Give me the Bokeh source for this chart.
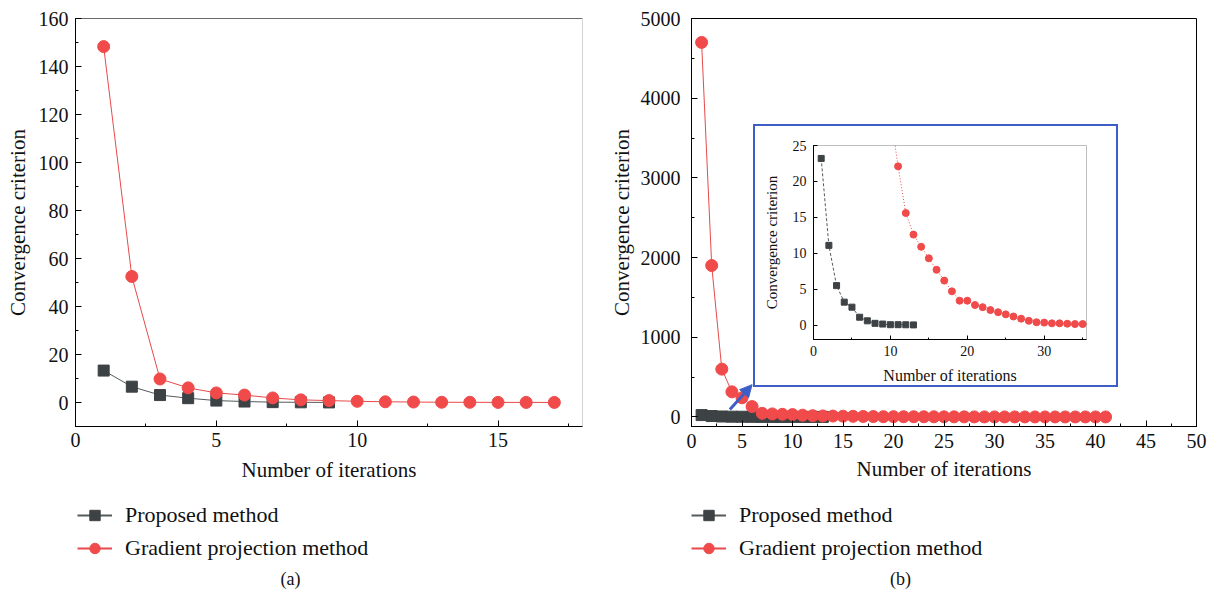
from bokeh.plotting import figure
from bokeh.models import (GridBox, Span, Label, Arrow, NormalHead, Legend,
                          LegendItem, SingleIntervalTicker, Range1d)
from bokeh.embed import file_html
from bokeh.resources import INLINE

# ---------------- data ----------------
iters_a_proposed = list(range(1, 10))
proposed_a = [13.3, 6.6, 3.1, 1.8, 0.8, 0.4, 0.15, 0.08, 0.03]
iters_a_gradient = list(range(1, 18))
gradient_a = [148.3, 52.5, 9.8, 6.1, 4.0, 3.1, 1.9, 1.1, 0.8, 0.5, 0.3,
              0.2, 0.1, 0.08, 0.05, 0.04, 0.03]

iters_b_proposed = list(range(1, 14))
proposed_b = [23.2, 11.1, 5.5, 3.2, 2.5, 1.1, 0.6, 0.25, 0.15, 0.06, 0.06,
              0.05, 0.03]
iters_b_gradient = list(range(1, 42))
gradient_b = [4700, 1900, 600, 315, 240, 130, 45, 38, 33, 29.5, 22.1, 15.6,
              12.6, 10.9, 9.3, 7.7, 6.2, 4.7, 3.4, 3.4, 2.8, 2.5, 2.1, 1.8,
              1.5, 1.2, 0.9, 0.6, 0.4, 0.35, 0.25, 0.25, 0.2, 0.15, 0.15,
              0.12, 0.1, 0.1, 0.08, 0.07, 0.05]

x_label = "Number of iterations"
y_label = "Convergence criterion"
legend_labels = ["Proposed method", "Gradient projection method"]
captions = ["(a)", "(b)"]

# ---------------- style ----------------
FONT = "Liberation Serif"
RED = "#f04a4a"
RED_LINE = "#e64a4a"
DARK = "#3d4245"
DARK_LINE = "#555a5c"
BLUE = "#3d5ec6"
TXT = "#111111"
MAIN_H = 495
LEG_H = 105


def style_axis(ax, tick_px, label_px, tick_in, minor_in, tick_standoff,
               label_standoff):
    ax.axis_line_color = "black"
    ax.axis_line_width = 1
    ax.major_tick_line_color = "black"
    ax.minor_tick_line_color = "black"
    ax.major_tick_in = tick_in
    ax.major_tick_out = 0
    ax.minor_tick_in = minor_in
    ax.minor_tick_out = 0
    ax.major_label_text_font = FONT
    ax.major_label_text_font_size = f"{tick_px}px"
    ax.major_label_text_color = TXT
    ax.major_label_standoff = tick_standoff
    ax.axis_label_text_font = FONT
    ax.axis_label_text_font_size = f"{label_px}px"
    ax.axis_label_text_font_style = "normal"
    ax.axis_label_text_color = TXT
    ax.axis_label_standoff = label_standoff


def base_style(p):
    p.xgrid.visible = False
    p.ygrid.visible = False
    p.background_fill_color = "white"
    p.border_fill_color = "white"


def add_series(p, xs_p, ys_p, xs_g, ys_g, sq, ci, lw=1):
    r1 = p.line(xs_p, ys_p, line_color=DARK_LINE, line_width=lw)
    r2 = p.scatter(xs_p, ys_p, marker="square", size=sq,
                   fill_color=DARK, line_color=DARK)
    r3 = p.line(xs_g, ys_g, line_color=RED_LINE, line_width=lw)
    r4 = p.scatter(xs_g, ys_g, marker="circle", size=ci,
                   fill_color=RED, line_color=RED)
    return [(r1, r2), (r3, r4)]


def legend_panel(width, xs_p, ys_p, xs_g, ys_g, vx, vy, caption, cap_x):
    """A bare figure under a chart that carries its legend and caption.
    It holds the same series, kept out of its (empty) view, so that the
    legend draws their glyphs."""
    q = figure(width=width, height=LEG_H, x_range=Range1d(-3, -2),
               y_range=Range1d(-3, -2), output_backend="svg",
               toolbar_location=None, x_axis_location=None,
               y_axis_location=None, min_border=0)
    q.outline_line_color = None
    q.background_fill_color = "white"
    q.border_fill_color = "white"
    q.grid.visible = False
    pairs = add_series(q, xs_p, ys_p, xs_g, ys_g, 11, 12, lw=2)
    items = [LegendItem(label=legend_labels[i], renderers=list(pairs[i]))
             for i in range(2)]
    q.add_layout(Legend(items=items, location=(vx, vy),
                        border_line_color=None, background_fill_alpha=0,
                        padding=0, margin=0, spacing=7, glyph_width=35,
                        glyph_height=26, label_height=26, label_standoff=13,
                        label_text_font=FONT, label_text_font_size="22px",
                        label_text_color=TXT))
    q.add_layout(Label(x=cap_x, y=22, x_units="screen", y_units="screen",
                       text=caption, text_align="center",
                       text_baseline="middle", text_font=FONT,
                       text_font_size="18px", text_color=TXT))
    return q


# ---------------- panel (a) ----------------
pa = figure(width=600, height=MAIN_H, x_range=Range1d(0, 18),
            y_range=Range1d(-10, 160), output_backend="svg",
            toolbar_location=None, min_border_left=75, min_border_right=18,
            min_border_top=18, min_border_bottom=MAIN_H - 426,
            x_axis_label=x_label, y_axis_label=y_label)
base_style(pa)
style_axis(pa.xaxis[0], 20, 21, 6, 3, 6, 8)
style_axis(pa.yaxis[0], 20, 21, 6, 3, 7, 6)
pa.xaxis.ticker = SingleIntervalTicker(interval=5, num_minor_ticks=2)
pa.yaxis.ticker = SingleIntervalTicker(interval=20, num_minor_ticks=2)
pa.outline_line_color = "#d4d4d4"
pa.add_layout(Span(location=pa.y_range.end, dimension="width",
                   line_color="black", line_width=1))
add_series(pa, iters_a_proposed, proposed_a,
           iters_a_gradient, gradient_a, 11, 12)

# ---------------- panel (b) ----------------
pb = figure(width=607, height=MAIN_H, x_range=Range1d(0, 50),
            y_range=Range1d(-120, 5000), output_backend="svg",
            toolbar_location=None, min_border_left=91, min_border_right=11,
            min_border_top=18, min_border_bottom=MAIN_H - 426,
            x_axis_label=x_label, y_axis_label=y_label)
base_style(pb)
style_axis(pb.xaxis[0], 20, 21, 6, 3, 7, 6)
style_axis(pb.yaxis[0], 20, 21, 6, 3, 11, 4)
pb.xaxis.ticker = SingleIntervalTicker(interval=5, num_minor_ticks=2)
pb.yaxis.ticker = SingleIntervalTicker(interval=1000, num_minor_ticks=2)
pb.outline_line_color = "black"
add_series(pb, iters_b_proposed, proposed_b,
           iters_b_gradient, gradient_b, 11, 12)

# pointer arrow toward the zoomed inset
ARROW_FROM = (3.8, 92)
ARROW_TO = (6.0, 405)
pb.add_layout(Arrow(x_start=ARROW_FROM[0], y_start=ARROW_FROM[1],
                    x_end=ARROW_TO[0], y_end=ARROW_TO[1],
                    line_color=BLUE, line_width=3,
                    end=NormalHead(size=12, fill_color=BLUE, line_color=BLUE)))

# ---------------- inset ----------------
inset = figure(width=365, height=263, x_range=Range1d(0, 35.5),
               y_range=Range1d(-2, 25), output_backend="svg",
               toolbar_location=None, min_border_left=58, min_border_right=34,
               min_border_top=19, min_border_bottom=50,
               x_axis_label=x_label, y_axis_label=y_label)
base_style(inset)
style_axis(inset.xaxis[0], 14, 16, 4, 2, 6, 8)
style_axis(inset.yaxis[0], 14, 15, 4, 2, 7, 10)
inset.xaxis.ticker = SingleIntervalTicker(interval=10, num_minor_ticks=2)
inset.yaxis.ticker = SingleIntervalTicker(interval=5, num_minor_ticks=1)
inset.outline_line_color = "#bdbdbd"
inset.styles = {"border": f"2px solid {BLUE}"}

inset.line(iters_b_proposed, proposed_b, line_color=DARK_LINE, line_width=1,
           line_dash="3 2")
inset.scatter(iters_b_proposed, proposed_b, marker="square", size=6,
              fill_color=DARK, line_color=DARK)
inset.line(iters_b_gradient, gradient_b, line_color=RED_LINE, line_width=1,
           line_dash="1 2")
inset.scatter(iters_b_gradient, gradient_b, marker="circle", size=7,
              fill_color=RED, line_color=RED)

# ---------------- legends + captions ----------------
# (the grid aligns these frames with the charts' frames above them)
la = legend_panel(600, iters_a_proposed, proposed_a, iters_a_gradient,
                  gradient_a, 2, 39, captions[0], 215)
lb = legend_panel(607, iters_b_proposed, proposed_b, iters_b_gradient,
                  gradient_b, 0, 39, captions[1], 209)

grid = GridBox(children=[(pa, 0, 0, 3, 1), (pb, 0, 1, 3, 3),
                         (inset, 1, 2, 1, 1),
                         (la, 3, 0, 1, 1), (lb, 3, 1, 1, 3)],
               rows=["124px", "263px", f"{MAIN_H - 124 - 263}px",
                     f"{LEG_H}px"],
               cols=["600px", "153px", "365px", "89px"], spacing=0)

open("out.html", "w").write(file_html(grid, INLINE))
